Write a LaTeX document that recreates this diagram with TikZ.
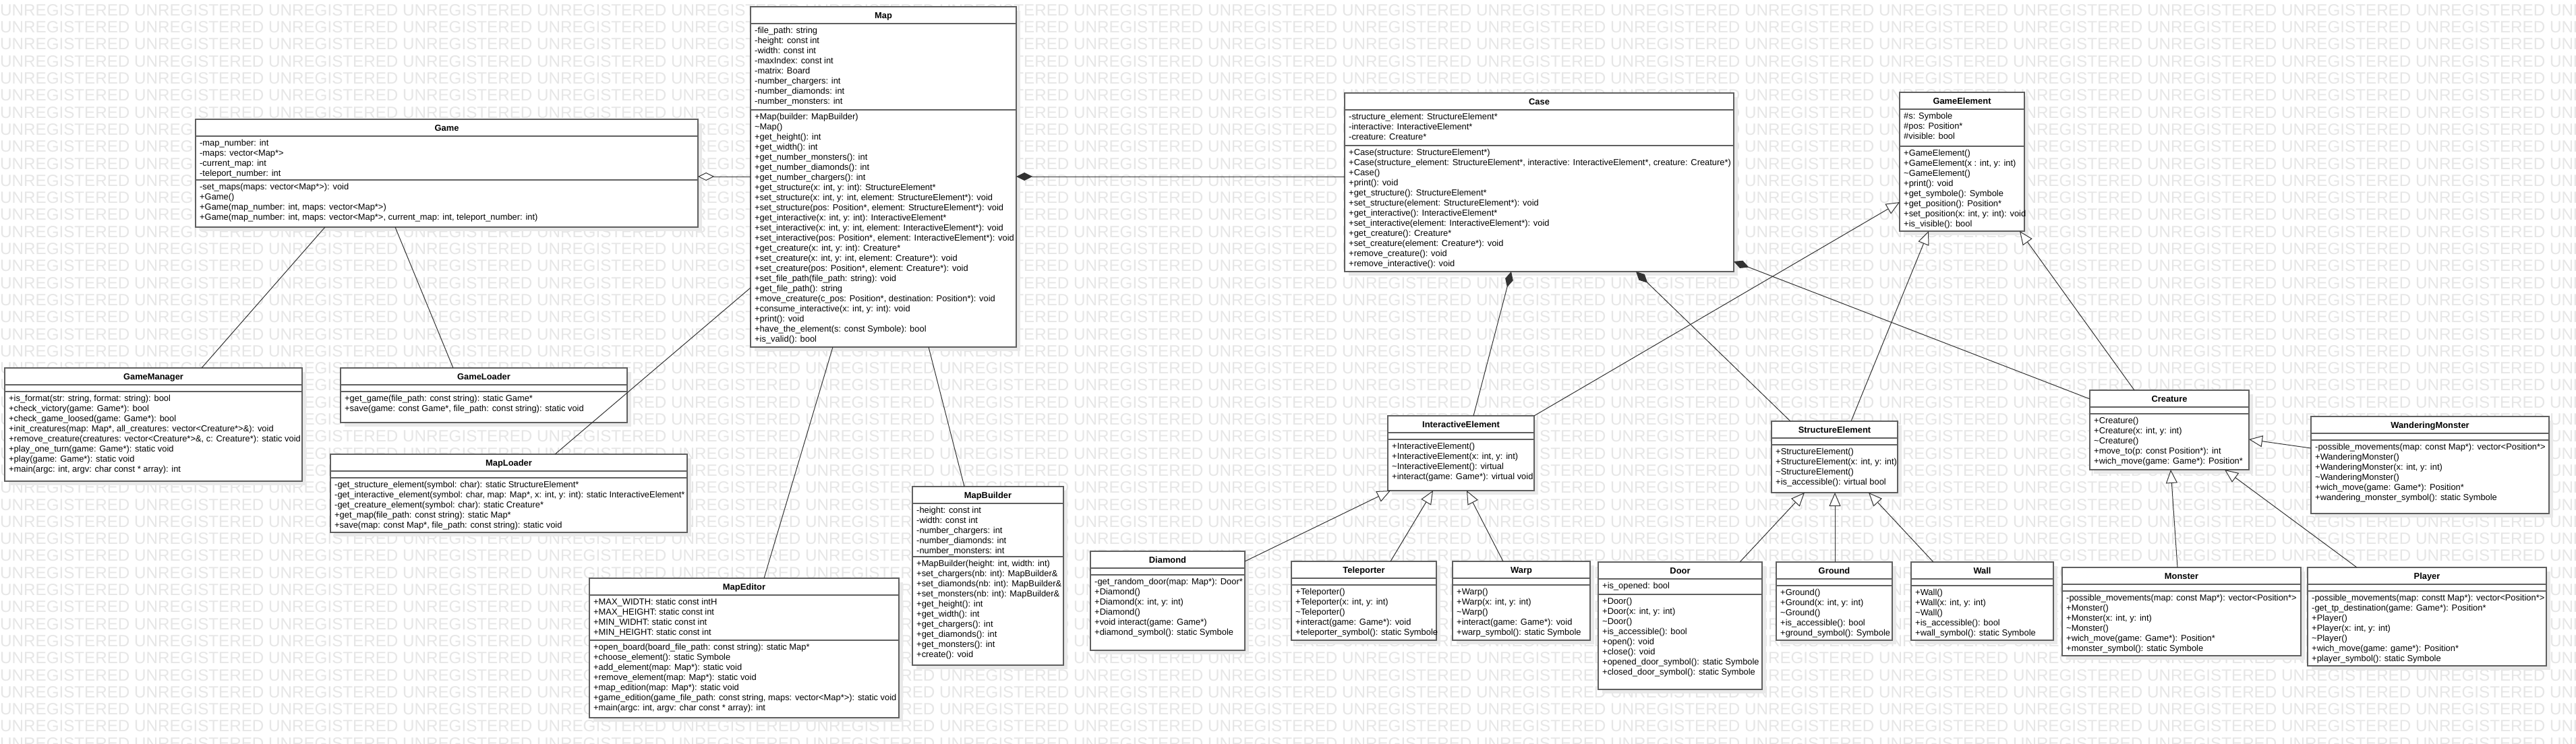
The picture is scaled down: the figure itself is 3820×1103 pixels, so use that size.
\documentclass[tikz,border=0pt]{standalone}
\usepackage{fontspec}
\setmainfont{Liberation Sans}
\usetikzlibrary{arrows.meta, shadows}
\definecolor{boxgray}{RGB}{95, 95, 95}
\definecolor{linegray}{RGB}{50, 50, 50}
\definecolor{shadowgray}{RGB}{233, 233, 233}
\definecolor{wmgray}{RGB}{230, 230, 230}

% one class box: name, left, top, right, bottom, attribute line, title, attributes, operations
\newcommand{\umlclass}[9]{%
  \node[classbox, minimum width={#4-#2}, minimum height={#5-#3}, anchor=north west] (#1) at (#2,#3) {};
  \draw[sepline] (#2,#3+25) -- (#4,#3+25);
  \draw[sepline] (#2,#6) -- (#4,#6);
  \node[classtitle] (#1-title) at ({(#2+#4)/2},{#3+17}) {#7};
  \node[members] (#1-attr) at ({#2+6},{#3+29}) {\strut #8};
  \node[members] (#1-ops) at ({#2+6},{#6+4}) {\strut #9};
}
\newcommand{\wmfive}{UNREGISTERED UNREGISTERED UNREGISTERED UNREGISTERED UNREGISTERED }
\newcommand{\wmrow}{\wmfive\wmfive\wmfive\wmfive}

\begin{document}
\begin{tikzpicture}[x=1pt, y=-1pt,
  classbox/.style={draw=boxgray, line width=1.6pt, fill=white, inner sep=0pt, outer sep=0pt,
    general shadow={fill=shadowgray, shadow xshift=6pt, shadow yshift=-6pt}},
  sepline/.style={draw=boxgray, line width=1.6pt},
  classtitle/.style={anchor=base, inner sep=0pt, font=\fontsize{12.9}{15}\selectfont\bfseries},
  members/.style={anchor=north west, inner sep=0pt, align=left, font=\fontsize{12.9}{15}\selectfont},
  watermark/.style={anchor=west, inner sep=0pt, text=wmgray, font=\fontsize{24.2}{26}\selectfont},
  link/.style={draw=linegray, line width=1pt},
  inherit/.style={link, -{Triangle[open, fill=white, length=20pt, width=17pt]}},
  compos/.style={link, {Diamond[length=24pt, width=12pt]}-},
  aggreg/.style={link, {Diamond[open, fill=white, length=24pt, width=12pt]}-}]

  \useasboundingbox (0,0) rectangle (3820,1103);
  \fill[white] (0,0) rectangle (3820,1103);

  % Watermark
  \begin{scope}
    \clip (0,0) rectangle (3820,1103);
    \foreach \r in {0,...,43}
      \node[watermark] (wm\r) at (0,{15+25.3*\r}) {\wmrow};
  \end{scope}

  % Game side
  \umlclass{game}{290}{177}{1035}{337}{267}{Game}
    {-map\_number: int\\-maps: vector<Map*>\\-current\_map: int\\-teleport\_number: int}
    {-set\_maps(maps: vector<Map*>): void\\+Game()\\+Game(map\_number: int, maps: vector<Map*>)\\+Game(map\_number: int, maps: vector<Map*>, current\_map: int, teleport\_number: int)}

  \umlclass{gamemanager}{7}{546}{448}{714}{581}{GameManager}{}
    {+is\_format(str: string, format: string): bool\\+check\_victory(game: Game*): bool\\+check\_game\_loosed(game: Game*): bool\\+init\_creatures(map: Map*, all\_creatures: vector<Creature*>\&): void\\+remove\_creature(creatures: vector<Creature*>\&, c: Creature*): static void\\+play\_one\_turn(game: Game*): static void\\+play(game: Game*): static void\\+main(argc: int, argv: char const * array): int}

  \umlclass{gameloader}{505}{546}{930}{627}{581}{GameLoader}{}
    {+get\_game(file\_path: const string): static Game*\\+save(game: const Game*, file\_path: const string): static void}

  % Map side
  \umlclass{map}{1113}{10}{1507}{515}{163}{Map}
    {-file\_path: string\\-height: const int\\-width: const int\\-maxIndex: const int\\-matrix: Board\\-number\_chargers: int\\-number\_diamonds: int\\-number\_monsters: int}
    {+Map(builder: MapBuilder)\\\textasciitilde Map()\\+get\_height(): int\\+get\_width(): int\\+get\_number\_monsters(): int\\+get\_number\_diamonds(): int\\+get\_number\_chargers(): int\\+get\_structure(x: int, y: int): StructureElement*\\+set\_structure(x: int, y: int, element: StructureElement*): void\\+set\_structure(pos: Position*, element: StructureElement*): void\\+get\_interactive(x: int, y: int): InteractiveElement*\\+set\_interactive(x: int, y: int, element: InteractiveElement*): void\\+set\_interactive(pos: Position*, element: InteractiveElement*): void\\+get\_creature(x: int, y: int): Creature*\\+set\_creature(x: int, y: int, element: Creature*): void\\+set\_creature(pos: Position*, element: Creature*): void\\+set\_file\_path(file\_path: string): void\\+get\_file\_path(): string\\+move\_creature(c\_pos: Position*, destination: Position*): void\\+consume\_interactive(x: int, y: int): void\\+print(): void\\+have\_the\_element(s: const Symbole): bool\\+is\_valid(): bool}

  \umlclass{maploader}{490}{674}{1019}{790}{709}{MapLoader}{}
    {-get\_structure\_element(symbol: char): static StructureElement*\\-get\_interactive\_element(symbol: char, map: Map*, x: int, y: int): static InteractiveElement*\\-get\_creature\_element(symbol: char): static Creature*\\+get\_map(file\_path: const string): static Map*\\+save(map: const Map*, file\_path: const string): static void}

  \umlclass{mapeditor}{874}{858}{1333}{1065}{950}{MapEditor}
    {+MAX\_WIDTH: static const intH\\+MAX\_HEIGHT: static const int\\+MIN\_WIDHT: static const int\\+MIN\_HEIGHT: static const int}
    {+open\_board(board\_file\_path: const string): static Map*\\+choose\_element(): static Symbole\\+add\_element(map: Map*): static void\\+remove\_element(map: Map*): static void\\+map\_edition(map: Map*): static void\\+game\_edition(game\_file\_path: const string, maps: vector<Map*>): static void\\+main(argc: int, argv: char const * array): int}

  \umlclass{mapbuilder}{1353}{722}{1577}{987}{826}{MapBuilder}
    {-height: const int\\-width: const int\\-number\_chargers: int\\-number\_diamonds: int\\-number\_monsters: int}
    {+MapBuilder(height: int, width: int)\\+set\_chargers(nb: int): MapBuilder\&\\+set\_diamonds(nb: int): MapBuilder\&\\+set\_monsters(nb: int): MapBuilder\&\\+get\_height(): int\\+get\_width(): int\\+get\_chargers(): int\\+get\_diamonds(): int\\+get\_monsters(): int\\+create(): void}

  % Case and elements
  \umlclass{case}{1994}{138}{2571}{403}{216}{Case}
    {-structure\_element: StructureElement*\\-interactive: InteractiveElement*\\-creature: Creature*}
    {+Case(structure: StructureElement*)\\+Case(structure\_element: StructureElement*, interactive: InteractiveElement*, creature: Creature*)\\+Case()\\+print(): void\\+get\_structure(): StructureElement*\\+set\_structure(element: StructureElement*): void\\+get\_interactive(): InteractiveElement*\\+set\_interactive(element: InteractiveElement*): void\\+get\_creature(): Creature*\\+set\_creature(element: Creature*): void\\+remove\_creature(): void\\+remove\_interactive(): void}

  \umlclass{gameelement}{2817}{137}{3002}{343}{217}{GameElement}
    {\#s: Symbole\\\#pos: Position*\\\#visible: bool}
    {+GameElement()\\+GameElement(x : int, y: int)\\\textasciitilde GameElement()\\+print(): void\\+get\_symbole(): Symbole\\+get\_position(): Position*\\+set\_position(x: int, y: int): void\\+is\_visible(): bool}

  \umlclass{interactive}{2058}{617}{2275}{728}{652}{InteractiveElement}{}
    {+InteractiveElement()\\+InteractiveElement(x: int, y: int)\\\textasciitilde InteractiveElement(): virtual\\+interact(game: Game*): virtual void}

  \umlclass{structure}{2627}{625}{2814}{731}{660}{StructureElement}{}
    {+StructureElement()\\+StructureElement(x: int, y: int)\\\textasciitilde StructureElement()\\+is\_accessible(): virtual bool}

  \umlclass{creature}{3099}{579}{3335}{697}{614}{Creature}{}
    {+Creature()\\+Creature(x: int, y: int)\\\textasciitilde Creature()\\+move\_to(p: const Position*): int\\+wich\_move(game: Game*): Position*}

  % Interactive elements
  \umlclass{diamond}{1617}{818}{1846}{965}{853}{Diamond}{}
    {-get\_random\_door(map: Map*): Door*\\+Diamond()\\+Diamond(x: int, y: int)\\+Diamond()\\+void interact(game: Game*)\\+diamond\_symbol(): static Symbole}

  \umlclass{teleporter}{1915}{833}{2130}{950}{868}{Teleporter}{}
    {+Teleporter()\\+Teleporter(x: int, y: int)\\\textasciitilde Teleporter()\\+interact(game: Game*): void\\+teleporter\_symbol(): static Symbole}

  \umlclass{warp}{2154}{833}{2358}{950}{868}{Warp}{}
    {+Warp()\\+Warp(x: int, y: int)\\\textasciitilde Warp()\\+interact(game: Game*): void\\+warp\_symbol(): static Symbole}

  % Structure elements
  \umlclass{door}{2370}{834}{2613}{1023}{882}{Door}
    {+is\_opened: bool}
    {+Door()\\+Door(x: int, y: int)\\\textasciitilde Door()\\+is\_accessible(): bool\\+open(): void\\+close(): void\\+opened\_door\_symbol(): static Symbole\\+closed\_door\_symbol(): static Symbole}

  \umlclass{ground}{2634}{834}{2806}{950}{869}{Ground}{}
    {+Ground()\\+Ground(x: int, y: int)\\\textasciitilde Ground()\\+is\_accessible(): bool\\+ground\_symbol(): Symbole}

  \umlclass{wall}{2834}{834}{3045}{950}{869}{Wall}{}
    {+Wall()\\+Wall(x: int, y: int)\\\textasciitilde Wall()\\+is\_accessible(): bool\\+wall\_symbol(): static Symbole}

  % Creatures
  \umlclass{wandering}{3427}{618}{3780}{762}{653}{WanderingMonster}{}
    {-possible\_movements(map: const Map*): vector<Position*>\\+WanderingMonster()\\+WanderingMonster(x: int, y: int)\\\textasciitilde WanderingMonster()\\+wich\_move(game: Game*): Position*\\+wandering\_monster\_symbol(): static Symbole}

  \umlclass{monster}{3058}{842}{3412}{973}{877}{Monster}{}
    {-possible\_movements(map: const Map*): vector<Position*>\\+Monster()\\+Monster(x: int, y: int)\\\textasciitilde Monster()\\+wich\_move(game: Game*): Position*\\+monster\_symbol(): static Symbole}

  \umlclass{player}{3422}{842}{3776}{988}{877}{Player}{}
    {-possible\_movements(map: constt Map*): vector<Position*>\\-get\_tp\_destination(game: Game*): Position*\\+Player()\\+Player(x: int, y: int)\\\textasciitilde Player()\\+wich\_move(game: game*): Position*\\+player\_symbol(): static Symbole}

  % Associations
  \draw[link] ([xshift=192pt]game.south west) -- ([xshift=292pt]gamemanager.north west);
  \draw[link] ([xshift=296pt]game.south west) -- ([xshift=167pt]gameloader.north west);
  \draw[link] ([yshift=-417pt]map.north west) -- ([xshift=333pt]maploader.north west);
  \draw[link] ([xshift=122pt]map.south west) -- ([xshift=259pt]mapeditor.north west);
  \draw[link] ([xshift=264pt]map.south west) -- ([xshift=77pt]mapbuilder.north west);

  % Aggregation and compositions
  \draw[aggreg] ([yshift=-85pt]game.north east) -- ([yshift=-252pt]map.north west);
  \draw[compos] ([yshift=-252pt]map.north east) -- ([yshift=-124pt]case.north west);
  \draw[compos] ([xshift=247pt]case.south west) -- ([xshift=127pt]interactive.north west);
  \draw[compos] ([xshift=432pt]case.south west) -- ([xshift=28pt]structure.north west);
  \draw[compos] ([yshift=15pt]case.south east) -- ([yshift=-13pt]creature.north west);

  % Generalizations
  \draw[inherit] (interactive.north east) -- ([yshift=-163pt]gameelement.north west);
  \draw[inherit] ([xshift=118pt]structure.north west) -- ([xshift=43pt]gameelement.south west);
  \draw[inherit] ([xshift=66pt]creature.north west) -- ([xshift=178pt]gameelement.south west);
  \draw[inherit] ([yshift=-15pt]diamond.north east) -- ([xshift=4pt]interactive.south west);
  \draw[inherit] ([xshift=147pt]teleporter.north west) -- ([xshift=67pt]interactive.south west);
  \draw[inherit] ([xshift=75pt]warp.north west) -- ([xshift=117pt]interactive.south west);
  \draw[inherit] ([xshift=210pt]door.north west) -- ([xshift=49pt]structure.south west);
  \draw[inherit] ([xshift=87pt]ground.north west) -- ([xshift=94pt]structure.south west);
  \draw[inherit] ([xshift=33pt]wall.north west) -- ([xshift=144pt]structure.south west);
  \draw[inherit] ([xshift=171pt]monster.north west) -- ([xshift=120pt]creature.south west);
  \draw[inherit] ([xshift=73pt]player.north west) -- ([xshift=200pt]creature.south west);
  \draw[inherit] ([yshift=-47pt]wandering.north west) -- ([yshift=-73pt]creature.north east);
\end{tikzpicture}
\end{document}
